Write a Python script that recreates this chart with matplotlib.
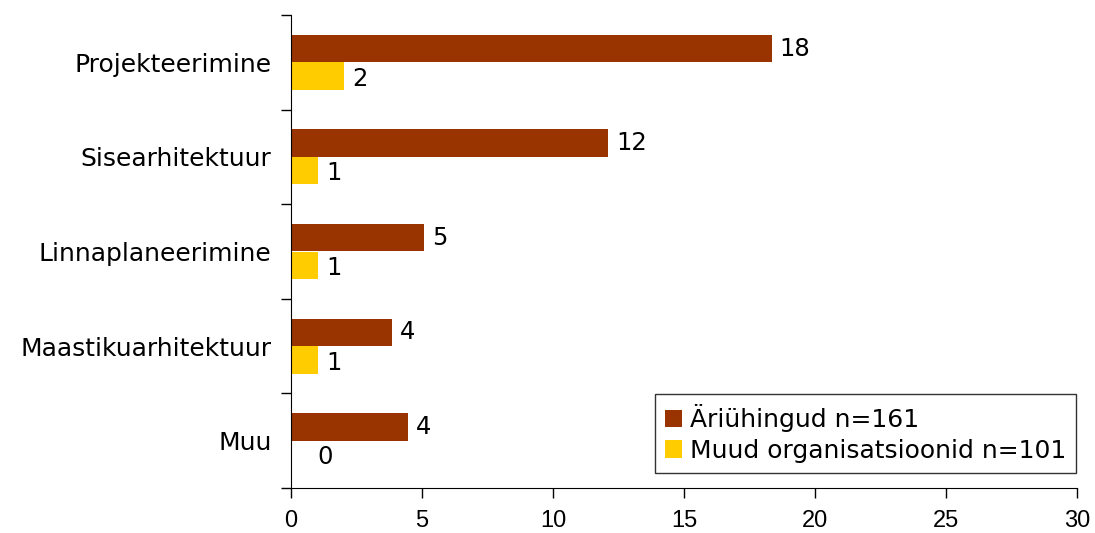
import matplotlib
matplotlib.use('Agg')
import matplotlib.pyplot as plt
import numpy as np

categorias = ['Projekteerimine', 'Sisearhitektuur', 'Linnaplaneerimine', 'Maastikuarhitektuur', 'Muu']
ariuhingud = [18.35, 12.1, 5.07, 3.85, 4.47]
muud = [2.02, 1.03, 1.03, 1.03, 0.0]
serie_nomes = ['Äriühingud n=161', 'Muud organisatsioonid n=101']
xticks = [0, 5, 10, 15, 20, 25, 30]

cor_a = '#993300'
cor_m = '#FFCC00'

fig = plt.figure(figsize=(10.95, 5.33), dpi=100)
ax = fig.add_axes([291/1095, 1 - 488/533, (1077 - 291)/1095, (488 - 15)/533])

y = np.arange(len(categorias))
h = 0.29

ax.barh(y - h/2, ariuhingud, height=h, color=cor_a, label=serie_nomes[0])
ax.barh(y + h/2, muud, height=h, color=cor_m, label=serie_nomes[1])

# rotulos com valores arredondados
for yy, v in zip(y - h/2, ariuhingud):
	ax.text(v + 0.3, yy, '%d' % round(v), va='center', ha='left', fontsize=17.5)
for yy, v in zip(y + h/2, muud):
	pos = v + 0.3 if v > 0 else 1.0
	ax.text(pos, yy + 0.03, '%d' % round(v), va='center', ha='left', fontsize=17.5)

ax.set_xlim(0, 30)
ax.set_ylim(len(categorias) - 0.5, -0.5)

ax.set_xticks(xticks)
ax.set_xticklabels([str(t) for t in xticks], fontsize=17, family='Liberation Sans')
ax.tick_params(axis='x', length=7, width=1, pad=9)

# ticks do eixo y nas fronteiras, rotulos no centro
ax.set_yticks(np.arange(len(categorias) + 1) - 0.5)
ax.set_yticklabels([])
ax.set_yticks(y, minor=True)
ax.set_yticklabels(categorias, minor=True, fontsize=18)
ax.tick_params(axis='y', which='major', length=7, width=1)
ax.tick_params(axis='y', which='minor', length=0, pad=14)

ax.spines['top'].set_visible(False)
ax.spines['right'].set_visible(False)

leg = ax.legend(loc='lower right', bbox_to_anchor=(1.005, 0.022), fontsize=18,
	frameon=True, fancybox=False, edgecolor='black', handlelength=0.7,
	handleheight=0.7, handletextpad=0.3, borderpad=0.4, labelspacing=0.25,
	borderaxespad=0.2)
leg.get_frame().set_linewidth(1)

fig.savefig('out.png', dpi=100)
